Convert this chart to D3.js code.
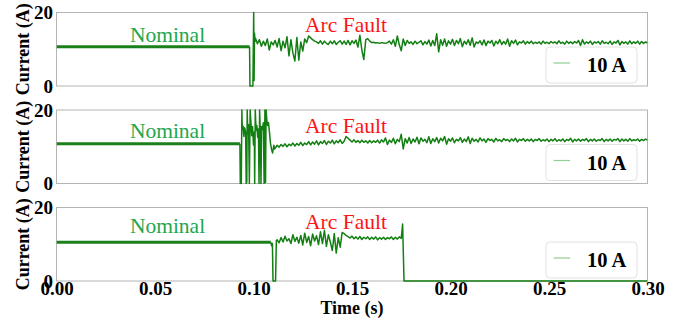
<!DOCTYPE html>
<html><head><meta charset="utf-8">
<script src="https://cdn.jsdelivr.net/npm/d3@7"></script>
<style>body{margin:0;background:#fff}svg{display:block}
svg text{font-family:"Liberation Serif","Times New Roman",Times,serif;}</style>
</head><body><svg id="c" width="684" height="320"></svg>
<script>
// ---------------- data ----------------
const xTicks = [0, 0.05, 0.10, 0.15, 0.20, 0.25, 0.30];
const yTicks = [0, 20];
const xLabel = "Time (s)";
const yLabel = "Current (A)";
const legendLabel = "10 A";
const nominalLabel = "Nominal";
const faultLabel = "Arc Fault";

const nominalLevel = [10.65, 10.8, 10.55];
const nominalEnd = [0.0980, 0.0931, 0.1088];

const transient1 = [[0.0982,0],[0.0997,0],[0.1001,20],[0.1003,1.5],[0.1005,14.4],[0.1008,12.2]];
const transient2 = [[0.0933,0],[0.0938,0],[0.0941,20],[0.0943,14.8],[0.0947,15.6],[0.0951,12.8],[0.0955,15.2],[0.0960,14.0],[0.0963,0],[0.0966,0.5],[0.0968,20],[0.0971,13.5],[0.0975,16],[0.0979,0],[0.0983,20],[0.0987,16.5],[0.0991,13],[0.0995,15.5],[0.1000,10.5],[0.1004,14],[0.1006,0],[0.1009,20],[0.1013,14.5],[0.1017,15.8],[0.1021,12.6],[0.1025,14.8],[0.1028,0],[0.1031,20],[0.1035,13],[0.1038,0],[0.1041,15.5],[0.1045,14.6],[0.1050,16.5],[0.1054,0],[0.1058,20],[0.1061,0.3],[0.1064,20],[0.1068,17],[0.1072,15.8],[0.1076,16.6],[0.1081,14],[0.1086,11],[0.1092,9.2],[0.1097,8.3],[0.1103,10.4],[0.1107,9.4]];
const transient3 = [[0.1092,9.6],[0.1096,10.2],[0.1099,0],[0.1112,0],[0.1116,11.0]];

const steadyStart = [0.101, 0.111, 0.112];
const steadyStep = 0.001;

const steady1 = [13.0,11.5,12.6,10.8,12.2,11.0,12.8,9.8,12.0,11.2,12.4,10.6,12.9,9.6,12.2,10.4,13.4,8.2,12.6,9.0,6.8,13.2,7.0,12.0,9.5,12.8,11.8,13.6,13.1,12.6,
12.2,12.0,11.6,12.3,11.4,12.2,11.6,11.3,12.2,11.5,12.3,11.3,11.9,12.3,11.4,12.2,11.3,12.4,11.2,12.3,11.6,12.5,10.6,13.8,9.8,7.2,12.6,12.9,12.2,11.8,
11.9,11.7,11.8,11.6,11.8,11.7,11.6,11.8,12.2,11.4,12.6,10.8,13.6,11.2,9.6,12.8,11.0,12.4,11.6,12.0,11.3,12.2,11.5,11.9,12.3,11.2,12.1,11.4,12.5,10.9,
12.4,11.0,14.2,9.3,12.6,11.1,12.8,10.8,12.3,11.4,12.7,11.0,12.4,11.5,12.9,10.7,12.2,11.4,12.6,11.1,13.1,10.6,12.0,11.6,12.3,11.2,12.5,11.0,12.2,11.7,
12.4,10.9,12.2,11.5,12.6,11.3,12.1,11.4,12.8,10.8,12.3,11.6,12.5,11.2,12.0,11.7,12.3,11.4,12.1,11.6,12.2,11.5,11.9,11.6,12.0,11.4,12.2,11.6,11.9,11.5,
12.1,11.7,12.0,11.5,12.3,11.6,11.9,11.4,12.2,11.6,12.0,11.5,12.1,11.7,12.4,11.0,12.6,11.4,12.0,11.6,12.2,11.3,12.0,11.7,12.1,11.4,12.3,11.6,11.9,11.5,
12.2,11.3,12.0,11.7,12.4,11.2,12.1,11.6,12.0,11.4,12.3,11.5,12.0,11.6,12.2,11.4,12.1,11.6,12.0,11.7];

const steady2 = [9.6,10.4,9.9,10.6,10.1,10.8,10.0,10.7,10.3,11.0,10.2,10.9,10.4,11.2,10.3,11.0,10.6,11.4,10.5,11.3,
10.7,11.6,10.5,11.4,10.9,11.7,10.6,11.5,11.0,11.8,10.8,11.6,11.1,11.9,10.9,11.5,12.8,12.3,11.8,11.3,
11.9,11.2,11.7,11.1,11.8,11.2,11.6,11.0,11.7,11.1,11.6,11.2,11.8,11.0,11.9,11.3,12.4,10.6,11.8,11.2,
12.3,10.8,12.0,11.4,13.4,9.4,12.2,11.0,12.5,10.9,12.1,11.3,12.6,10.8,12.4,11.5,12.0,11.1,12.7,10.9,
12.2,11.4,12.5,11.0,12.3,11.6,12.8,10.7,12.2,11.5,12.4,11.1,12.0,11.6,12.5,11.2,12.1,11.4,12.7,10.9,
12.3,11.5,12.0,11.3,12.4,11.6,12.1,11.2,12.2,11.7,12.0,11.3,12.3,11.6,11.9,11.4,12.2,11.7,12.0,11.4,
12.1,11.6,12.3,11.3,12.0,11.7,12.2,11.5,12.0,11.6,12.1,11.4,12.0,11.7,12.2,11.5,11.9,11.6,12.1,11.4,
12.0,11.6,12.2,11.5,11.9,11.6,12.1,11.4,12.0,11.7,12.3,11.3,12.0,11.6,12.1,11.5,12.0,11.7,12.2,11.4,
12.0,11.6,12.1,11.5,11.9,11.7,12.2,11.4,12.0,11.6,12.1,11.5,12.0,11.8,12.2,11.4,12.1,11.6,12.0,11.5,
12.2,11.6,11.9,11.7,12.1,11.5,12.0,11.7,12.1,11.8];

const steady3 = [11.2,10.4,11.8,10.6,12.2,10.9,11.5,10.2,12.6,10.8,11.9,10.3,12.4,9.8,13.0,10.5,12.1,9.6,12.8,10.9,
12.3,9.9,13.4,10.2,13.8,9.4,12.6,10.6,8.3,12.9,7.6,11.8,9.2,13.2,12.9,12.4,12.1,11.7,12.2,11.5,
12.0,11.4,12.1,11.3,11.9,11.5,12.0,11.3,11.9,11.4,12.0,11.2,11.8,11.4,11.9,11.3,11.8,11.5,12.0,11.3,
11.9,11.4,12.0,11.6];
const tail3 = [[0.1757,15.5],[0.1764,0],[0.300,0]];

// ---------------- layout ----------------
const svg = d3.select("#c");
const xL = 56.5, xR = 647.5;
const panelTops = [12.5, 110, 207.5];
const panelH = 73.5;
const font = '"Liberation Serif","Times New Roman",Times,serif';
const x = d3.scaleLinear().domain([0, 0.3]).range([xL, xR]);

const transients = [transient1, transient2, transient3];
const steadies = [steady1, steady2, steady3];
const tails = [[], [], tail3];
const nominalDy = [29.2, 28.3, 25.8];
const faultDy = [19.8, 23.3, 21.3];

function styleText(sel, size, bold) {
  sel.style("font-family", font).style("font-size", size + "px")
     .style("font-weight", bold ? "bold" : "normal");
}

panelTops.forEach((top, i) => {
  const y = d3.scaleLinear().domain([0, 20]).range([top + panelH, top]);
  const g = svg.append("g");

  const cid = "clip" + i;
  svg.append("clipPath").attr("id", cid).append("rect")
    .attr("x", xL).attr("y", top - 1).attr("width", xR - xL).attr("height", panelH + 2);

  g.append("rect").attr("x", xL).attr("y", top).attr("width", xR - xL).attr("height", panelH)
    .attr("fill", "none").attr("stroke", "#b4b4b4").attr("stroke-width", 1);

  const line = d3.line().x(d => x(d[0])).y(d => y(d[1]));

  const nom = [[0, nominalLevel[i]], [nominalEnd[i], nominalLevel[i]]];
  g.append("path").datum(nom).attr("d", line).attr("clip-path", `url(#${cid})`)
    .attr("fill", "none").attr("stroke", "#1b7f1b").attr("stroke-width", 3);

  const fault = [[nominalEnd[i], nominalLevel[i]]]
    .concat(transients[i])
    .concat(steadies[i].map((v, k) => [steadyStart[i] + k * steadyStep, v]))
    .concat(tails[i]);
  g.append("path").datum(fault).attr("d", line).attr("clip-path", `url(#${cid})`)
    .attr("fill", "none").attr("stroke", "#127f12").attr("stroke-width", 1.5)
    .attr("stroke-linejoin", "round");

  const ya = g.append("g").attr("transform", `translate(${xL},0)`)
    .call(d3.axisLeft(y).tickValues(yTicks).tickSize(0).tickPadding(3.5).tickFormat(d3.format("d")));
  ya.select(".domain").remove();
  ya.selectAll("text").attr("fill", "#000").call(styleText, 19, true);

  g.append("text").attr("transform", `translate(28.5,${top + panelH / 2}) rotate(-90)`)
    .attr("text-anchor", "middle").attr("fill", "#000").call(styleText, 18, true).text(yLabel);

  g.append("text").attr("x", 167.5).attr("y", top + nominalDy[i]).attr("text-anchor", "middle")
    .attr("fill", "#1fa64e").call(styleText, 21.5, false).text(nominalLabel);
  g.append("text").attr("x", 346).attr("y", top + faultDy[i]).attr("text-anchor", "middle")
    .attr("fill", "#ff1414").call(styleText, 21.5, false).text(faultLabel);

  const lb = top + panelH - 3, lt = lb - 36;
  g.append("rect").attr("x", 546).attr("y", lt).attr("width", 91).attr("height", 36)
    .attr("rx", 4).attr("fill", "#fff").attr("fill-opacity", 0.85).attr("stroke", "#e2e2e2");
  g.append("line").attr("x1", 553.5).attr("x2", 570).attr("y1", lt + 16).attr("y2", lt + 16)
    .attr("stroke", "#8fcf8f").attr("stroke-width", 1.2);
  g.append("text").attr("x", 587).attr("y", lt + 25).attr("fill", "#000")
    .call(styleText, 20.5, true).text(legendLabel);

  if (i === 2) {
    const xa = svg.append("g").attr("transform", `translate(0,${top + panelH})`)
      .call(d3.axisBottom(x).tickValues(xTicks).tickSize(0).tickPadding(0).tickFormat(d3.format(".2f")));
    xa.select(".domain").remove();
    xa.selectAll("text").attr("fill", "#000").call(styleText, 19, true);
    svg.append("text").attr("x", (xL + xR) / 2).attr("y", 314).attr("text-anchor", "middle")
      .attr("fill", "#000").call(styleText, 18, true).text(xLabel);
  }
});
</script></body></html>
